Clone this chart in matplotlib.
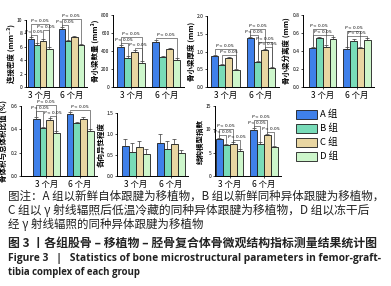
import numpy as np
import matplotlib
matplotlib.use("Agg")
import matplotlib.pyplot as plt
from matplotlib.patches import Patch

plt.rcParams['font.family'] = ['Noto Sans CJK SC', 'DejaVu Sans']
plt.rcParams['mathtext.fontset'] = 'dejavusans'

W, H = 391, 286
groups = ['3 个月', '6 个月']
series = ['A 组', 'B 组', 'C 组', 'D 组']
colors = ['#3f80ea', '#78dbb8', '#e9d6a2', '#cdf6cb']
BW = 0.2

# ---- values: [3 months, 6 months] x [A, B, C, D]
conn_density = [[7.2, 6.3, 6.9, 5.7], [8.7, 6.8, 7.4, 6.2]]
conn_err = [[0.2, 0.2, 0.2, 0.2], [0.25, 0.2, 0.2, 0.2]]
tb_number = [[444, 322, 389, 267], [500, 333, 422, 300]]
tb_number_err = [[25, 20, 20, 18], [25, 15, 15, 18]]
tb_thick = [[0.87, 0.62, 0.82, 0.48], [1.38, 0.70, 1.04, 0.53]]
tb_thick_err = [[0.03, 0.03, 0.03, 0.03], [0.03, 0.03, 0.02, 0.03]]
tb_sep = [[0.43, 0.54, 0.45, 0.53], [0.42, 0.51, 0.43, 0.52]]
tb_sep_err = [[0.02, 0.02, 0.02, 0.02], [0.02, 0.02, 0.02, 0.02]]
bv_tv = [[0.49, 0.41, 0.48, 0.37], [0.53, 0.45, 0.49, 0.39]]
bv_tv_err = [[0.015, 0.012, 0.015, 0.012], [0.02, 0.015, 0.015, 0.012]]
anisotropy = [[0.72, 0.58, 0.68, 0.52], [0.79, 0.65, 0.76, 0.55]]
anisotropy_err = [[0.17, 0.2, 0.15, 0.12], [0.2, 0.18, 0.12, 0.08]]
smi = [[7.9, 6.6, 6.9, 5.4], [9.9, 6.9, 8.8, 6.2]]
smi_err = [[0.3, 0.3, 0.3, 0.3], [0.4, 0.3, 0.3, 0.3]]

# significant comparisons (bar index pairs), per group, bottom to top
conn_pairs = [[(0, 1), (2, 3), (0, 3)], [(0, 1), (0, 3)]]
tb_number_pairs = [[(2, 3), (0, 1), (0, 3)], [(0, 3)]]
tb_thick_pairs = [[(1, 3), (0, 3)], [(2, 3), (1, 3), (0, 1), (0, 2)]]
tb_sep_pairs = [[(0, 3), (0, 2)], [(0, 3), (0, 2)]]
bv_tv_pairs = [[(2, 3), (0, 1), (0, 3)], [(0, 3)]]
anis_pairs = [[], []]
smi_pairs = [[(2, 3), (0, 1), (0, 2)], [(2, 3), (0, 1), (0, 2)]]

fig = plt.figure(figsize=(W / 100, H / 100), dpi=100)


def px_axes(x0, x1, ytop, ybot):
    return fig.add_axes([x0 / W, 1 - ybot / H, (x1 - x0) / W, (ybot - ytop) / H])


def panel(box, xlim, vals, errs, pairs, ymax, yticks, ylabel, fmt):
    ax = px_axes(*box)
    for b in range(4):
        xs = [g + (b - 1.5) * BW for g in range(2)]
        ax.bar(xs, [vals[g][b] for g in range(2)], BW, color=colors[b],
               edgecolor='#1a1a1a', linewidth=0.6, zorder=2)
        ax.errorbar(xs, [vals[g][b] for g in range(2)],
                    yerr=[[0, 0], [errs[g][b] for g in range(2)]],
                    fmt='none', ecolor='#333', elinewidth=0.5, capsize=1.2,
                    capthick=0.5, zorder=3)
    ax.set_xlim(*xlim)
    ax.set_ylim(0, ymax)
    ax.set_yticks(yticks)
    ax.set_yticklabels([fmt.format(t) for t in yticks])
    ax.set_xticks([0, 1])
    ax.set_xticklabels(groups, fontsize=6)
    ax.tick_params(axis='y', labelsize=3.6, length=1.5, width=0.5, pad=1)
    ax.tick_params(axis='x', length=1.5, width=0.5, pad=1)
    for s in ['top', 'right']:
        ax.spines[s].set_visible(False)
    for s in ['left', 'bottom']:
        ax.spines[s].set_linewidth(0.7)
    ax.set_ylabel(ylabel, fontsize=5.4, labelpad=1.5, fontweight='bold')

    per_px = ymax / (box[3] - box[2])
    x_per_px = (xlim[1] - xlim[0]) / (box[1] - box[0])
    hw = 7 * x_per_px
    pad = 2 * per_px
    step = 5.6 * per_px
    for g, plist in enumerate(pairs):
        tops = [vals[g][k] + errs[g][k] for k in range(4)]
        placed = []
        for i, j in plist:
            xi = g + (i - 1.5) * BW
            xj = g + (j - 1.5) * BW
            c = (xi + xj) / 2
            lo, hi = min(xi, c - hw), max(xj, c + hw)
            y = max(tops[i:j + 1]) + pad
            for a, b, yy in placed:
                if not (hi < a or lo > b):
                    y = max(y, yy + step)
            placed.append((lo, hi, y))
            ax.plot([xi, xi, xj, xj], [tops[i] + pad * 0.3, y, y, tops[j] + pad * 0.3],
                    color='#444', lw=0.45, clip_on=False, zorder=4)
            ax.text(c, y, r'$P$ < 0.05', ha='center',
                    va='bottom', fontsize=3.1, clip_on=False, zorder=5,
                    family=['DejaVu Sans'])
    return ax


panel((26, 87, 20, 87), (-0.45, 1.5), conn_density, conn_err, conn_pairs,
      10, [0, 2, 4, 6, 8, 10], '连接密度 (mm⁻³)', '{:g}')
panel((113, 184, 15, 87), (-0.52, 1.5), tb_number, tb_number_err, tb_number_pairs,
      800, [0, 200, 400, 600, 800], '骨小梁数量 (mm³)', '{:g}')
panel((207, 279, 16, 87), (-0.51, 1.5), tb_thick, tb_thick_err, tb_thick_pairs,
      2.0, [0, 0.5, 1.0, 1.5, 2.0], '骨小梁厚度 (mm)', '{:.1f}')
panel((303, 374, 15, 87), (-0.58, 1.5), tb_sep, tb_sep_err, tb_sep_pairs,
      0.8, [0, 0.2, 0.4, 0.6, 0.8], '骨小梁分离度 (mm)', '{:.1f}')
panel((21, 97, 106, 176), (-0.75, 1.5), bv_tv, bv_tv_err, bv_tv_pairs,
      0.6, [0, 0.2, 0.4, 0.6], '骨体积与总体积比值 (%)', '{:.1f}')
panel((117, 188, 113, 176), (-0.54, 1.5), anisotropy, anisotropy_err, anis_pairs,
      1.5, [0, 0.5, 1.0, 1.5], '各向异性程度', '{:.1f}')
panel((215, 281, 106, 176), (-0.43, 1.5), smi, smi_err, smi_pairs,
      15, [0, 5, 10, 15], '结构模型指数', '{:g}')

handles = [Patch(facecolor=c, edgecolor='#1a1a1a', linewidth=0.6) for c in colors]
fig.legend(handles, series, loc='upper left', bbox_to_anchor=(291 / W, 1 - 105 / H),
           frameon=False, fontsize=6.8, handlelength=2.3, handleheight=1.1,
           labelspacing=0.45, handletextpad=0.3, borderpad=0)

# caption lines: (text, y centre px, right edge px, weight, family)
cjk = ['Noto Sans CJK SC', 'DejaVu Sans']
lat = ['Open Sans', 'DejaVu Sans']
caption = [
    ('图注：A 组以新鲜自体跟腱为移植物，B 组以新鲜同种异体跟腱为移植物，', 196, 385, 'normal', cjk),
    ('C 组以 γ 射线辐照后低温冷藏的同种异体跟腱为移植物，D 组以冻干后', 210, 371, 'normal', cjk),
    ('经 γ 射线辐照的同种异体跟腱为移植物', 224, 203, 'normal', cjk),
    ('图 3 丨各组股骨 – 移植物 – 胫骨复合体骨微观结构指标测量结果统计图', 243, 376, 'bold', cjk),
    ('Figure 3   |   Statistics of bone microstructural parameters in femor-graft-', 258, 384, 'bold', lat),
    ('tibia complex of each group', 273, 142, 'bold', lat),
]
renderer = fig.canvas.get_renderer()
for line, yc, xr, wt, fam in caption:
    t = fig.text(8 / W, 1 - yc / H, line, fontsize=8, va='center', color='#222',
                 fontweight=wt, family=fam)
    w = t.get_window_extent(renderer).width
    t.set_fontsize(min(8.6, 8 * (xr - 8) / w))

fig.savefig('out.png', dpi=100)
